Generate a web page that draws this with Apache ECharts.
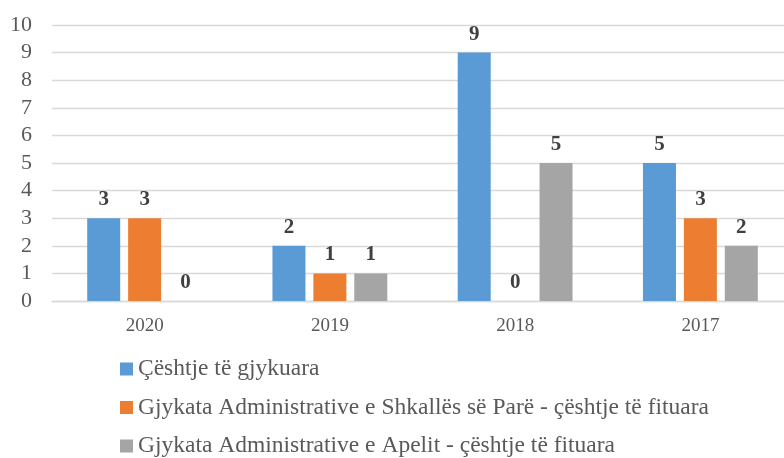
<!DOCTYPE html>
<html>
<head>
<meta charset="utf-8">
<script src="https://cdn.jsdelivr.net/npm/echarts@6/dist/echarts.min.js"></script>
<style>
  html, body { margin: 0; padding: 0; background: #fff; }
  #chart { width: 784px; height: 458px; }
</style>
</head>
<body>
<div id="chart"></div>
<script>
// data
var years = ['2020', '2019', '2018', '2017'];
var seriesNames = [
  'Çështje të gjykuara',
  'Gjykata Administrative e Shkallës së Parë - çështje të fituara',
  'Gjykata Administrative e Apelit - çështje të fituara'
];
var gjykuara = [3, 2, 9, 5];
var shkallaPare = [3, 1, 0, 3];
var apeli = [0, 1, 5, 2];
var yTicks = [0, 10, 1]; // min, max, interval

var colors = ['#5B9BD5', '#ED7D31', '#A5A5A5'];
var font = '"Liberation Serif", "Times New Roman", serif';

var myChart = echarts.init(document.getElementById('chart'));

function bar(name, values, color) {
  return {
    name: name,
    type: 'bar',
    data: values,
    barWidth: 33,
    barGap: '24%',
    itemStyle: { color: color },
    label: {
      show: true,
      position: 'top',
      distance: 8,
      color: '#404040',
      fontFamily: font,
      fontWeight: 'bold',
      fontSize: 21
    }
  };
}

var option = {
  animation: false,
  textStyle: { fontFamily: font },
  // plot area runs a little past the right edge, as in the picture
  grid: { left: 52, top: 25, width: 741, height: 276, outerBoundsMode: 'none', containLabel: false },
  legend: {
    orient: 'vertical',
    left: 115,
    top: 352,
    height: 110,
    itemWidth: 13,
    itemHeight: 13,
    itemGap: 14.5,
    icon: 'rect',
    textStyle: { fontFamily: font, fontSize: 23.5, color: '#595959', lineHeight: 24 },
    data: seriesNames
  },
  xAxis: {
    type: 'category',
    data: years,
    axisLine: { lineStyle: { color: '#D9D9D9', width: 1.3 } },
    axisTick: { show: false },
    axisLabel: { fontFamily: font, fontSize: 19, color: '#595959', margin: 16 }
  },
  yAxis: {
    type: 'value',
    min: yTicks[0],
    max: yTicks[1],
    interval: yTicks[2],
    axisLine: { show: false },
    axisTick: { show: false },
    splitLine: { lineStyle: { color: '#D9D9D9', width: 1.3 } },
    axisLabel: { fontFamily: font, fontSize: 22, color: '#595959', margin: 20 }
  },
  series: [
    bar(seriesNames[0], gjykuara, colors[0]),
    bar(seriesNames[1], shkallaPare, colors[1]),
    bar(seriesNames[2], apeli, colors[2])
  ]
};

myChart.setOption(option);
</script>
</body>
</html>
